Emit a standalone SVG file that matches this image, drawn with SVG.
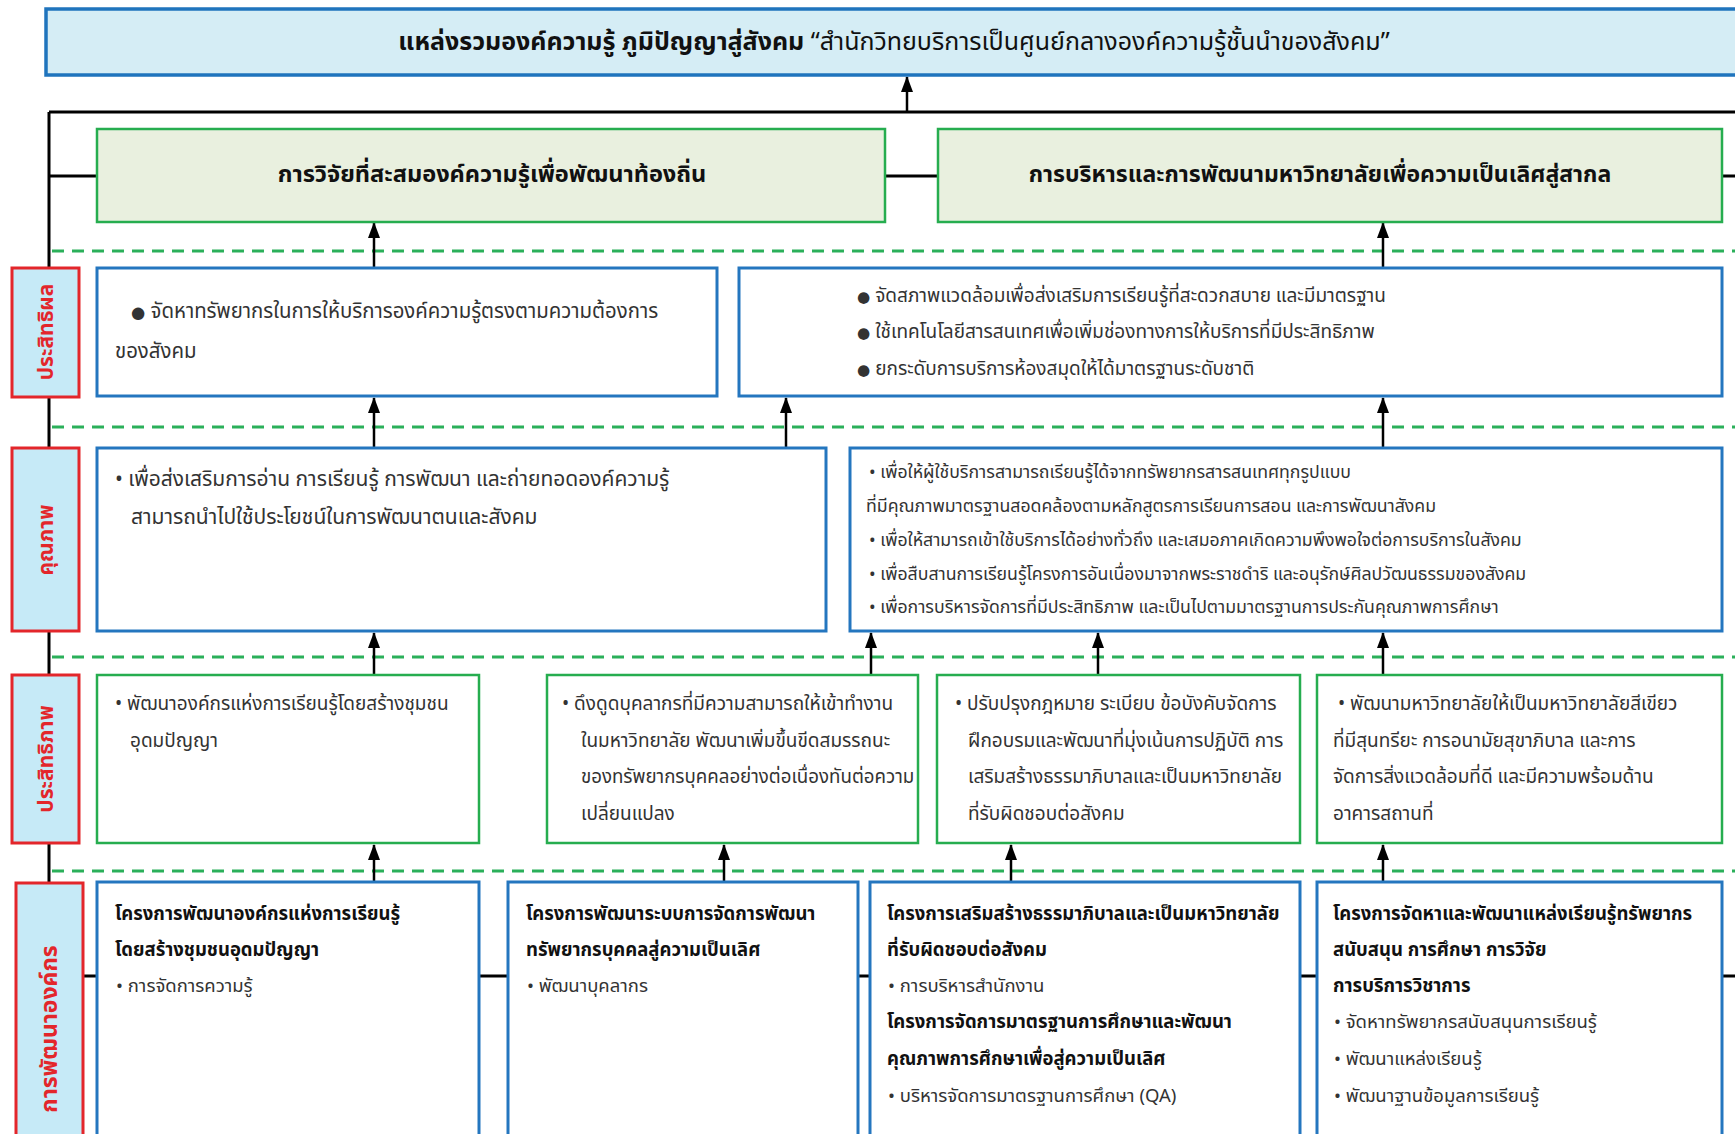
<svg xmlns="http://www.w3.org/2000/svg" width="1735" height="1134" viewBox="0 0 1735 1134">
<defs>
<marker id="ah" viewBox="0 0 16 12" refX="15" refY="6" markerWidth="16" markerHeight="12" markerUnits="userSpaceOnUse" orient="auto">
<path d="M0,0 L16,6 L0,12 Z" fill="#000"/>
</marker>
<style>
text{font-family:"Noto Sans Thai","Noto Sans","DejaVu Sans",sans-serif;}
.top{fill:#d5edf5;stroke:#1f74bd;stroke-width:3.5;}
.gbox{fill:#e9f0df;stroke:#26ad4f;stroke-width:2.5;}
.bbox{fill:#fff;stroke:#2476bf;stroke-width:3;}
.grbox{fill:#fff;stroke:#26ad4f;stroke-width:2.5;}
.lab{fill:#c6eaf7;stroke:#e3262b;stroke-width:3;}
.labt{fill:#e3262b;font-weight:bold;font-size:21px;text-anchor:middle;dominant-baseline:central;}
.h{fill:#111;font-weight:bold;font-size:23px;text-anchor:middle;dominant-baseline:central;}
.t{fill:#333;font-size:19px;}
.t1{fill:#333;font-size:20.4px;}
.t2{fill:#333;font-size:21px;}
.t3{fill:#333;font-size:17.7px;}
.b{fill:#111;font-weight:bold;font-size:18.5px;}
.t4{fill:#333;font-size:18.5px;}
.bul{font-size:0.8em;}
.blk{stroke:#000;stroke-width:3;fill:none;}
.arr{stroke:#000;stroke-width:2.5;fill:none;marker-end:url(#ah);}
.dash{stroke:#2bb05a;stroke-width:3;stroke-dasharray:12 8;fill:none;}
</style>
</defs>
<rect width="1735" height="1134" fill="#fff"/>

<g id="connectors">
<path class="blk" d="M49,112 H1735 M49,112 V1134 M49,176 H97 M885,176 H938 M1722,176 H1735 M83,976 H97 M479,976 H508 M858,976 H870 M1300,976 H1317 M1722,976 H1735"/>
<path class="dash" d="M52,251 H1735 M52,427 H1735 M52,657 H1735 M52,871 H1735"/>
<line class="arr" x1="907" y1="112" x2="907" y2="77"/>
<line class="arr" x1="374" y1="268" x2="374" y2="223"/>
<line class="arr" x1="1383" y1="268" x2="1383" y2="223"/>
<line class="arr" x1="374" y1="448" x2="374" y2="398"/>
<line class="arr" x1="786" y1="448" x2="786" y2="398"/>
<line class="arr" x1="1383" y1="448" x2="1383" y2="398"/>
<line class="arr" x1="374" y1="675" x2="374" y2="633"/>
<line class="arr" x1="871" y1="675" x2="871" y2="633"/>
<line class="arr" x1="1098" y1="675" x2="1098" y2="633"/>
<line class="arr" x1="1383" y1="675" x2="1383" y2="633"/>
<line class="arr" x1="374" y1="882" x2="374" y2="845"/>
<line class="arr" x1="724" y1="882" x2="724" y2="845"/>
<line class="arr" x1="1011" y1="882" x2="1011" y2="845"/>
<line class="arr" x1="1383" y1="882" x2="1383" y2="845"/>
</g>

<g id="vision">
<rect class="top" x="46" y="9" width="1700" height="66"/>
<text x="894" y="42" font-size="25" fill="#111" text-anchor="middle" dominant-baseline="central"><tspan font-weight="bold">แหล่งรวมองค์ความรู้ ภูมิปัญญาสู่สังคม</tspan> “สำนักวิทยบริการเป็นศูนย์กลางองค์ความรู้ชั้นนำของสังคม”</text>
</g>

<g id="goal1">
<rect class="gbox" x="97" y="129" width="788" height="93"/>
<text class="h" x="492" y="175" style="font-size:23.6px">การวิจัยที่สะสมองค์ความรู้เพื่อพัฒนาท้องถิ่น</text>
</g>
<g id="goal2">
<rect class="gbox" x="938" y="129" width="784" height="93"/>
<text class="h" x="1320" y="175">การบริหารและการพัฒนามหาวิทยาลัยเพื่อความเป็นเลิศสู่สากล</text>
</g>

<g id="label-effect">
<rect class="lab" x="12" y="268" width="67" height="129"/>
<text class="labt" transform="translate(46,332) rotate(-90)">ประสิทธิผล</text>
</g>
<g id="label-quality">
<rect class="lab" x="12" y="448" width="67" height="183"/>
<text class="labt" transform="translate(46,540) rotate(-90)">คุณภาพ</text>
</g>
<g id="label-efficiency">
<rect class="lab" x="12" y="675" width="67" height="168"/>
<text class="labt" transform="translate(46,759) rotate(-90)">ประสิทธิภาพ</text>
</g>
<g id="label-org">
<rect class="lab" x="16" y="883" width="67" height="260"/>
<text class="labt" transform="translate(50,1029) rotate(-90)" style="font-size:23px">การพัฒนาองค์กร</text>
</g>

<g id="eff1">
<rect class="bbox" x="97" y="268" width="620" height="128"/>
<text class="t1" x="131" y="318"><tspan class="bul">●</tspan> จัดหาทรัพยากรในการให้บริการองค์ความรู้ตรงตามความต้องการ</text>
<text class="t1" x="115" y="358">ของสังคม</text>
</g>
<g id="eff2">
<rect class="bbox" x="739" y="268" width="983" height="128"/>
<text class="t" x="857" y="302"><tspan class="bul">●</tspan> จัดสภาพแวดล้อมเพื่อส่งเสริมการเรียนรู้ที่สะดวกสบาย และมีมาตรฐาน</text>
<text class="t" x="857" y="338"><tspan class="bul">●</tspan> ใช้เทคโนโลยีสารสนเทศเพื่อเพิ่มช่องทางการให้บริการที่มีประสิทธิภาพ</text>
<text class="t" x="857" y="375"><tspan class="bul">●</tspan> ยกระดับการบริการห้องสมุดให้ได้มาตรฐานระดับชาติ</text>
</g>

<g id="qual1">
<rect class="bbox" x="97" y="448" width="729" height="183"/>
<text class="t2" x="115" y="486">• เพื่อส่งเสริมการอ่าน การเรียนรู้ การพัฒนา และถ่ายทอดองค์ความรู้</text>
<text class="t2" x="131" y="524">สามารถนำไปใช้ประโยชน์ในการพัฒนาตนและสังคม</text>
</g>
<g id="qual2">
<rect class="bbox" x="850" y="448" width="872" height="183"/>
<text class="t3" x="869" y="478">• เพื่อให้ผู้ใช้บริการสามารถเรียนรู้ได้จากทรัพยากรสารสนเทศทุกรูปแบบ</text>
<text class="t3" x="866" y="512">ที่มีคุณภาพมาตรฐานสอดคล้องตามหลักสูตรการเรียนการสอน และการพัฒนาสังคม</text>
<text class="t3" x="869" y="546">• เพื่อให้สามารถเข้าใช้บริการได้อย่างทั่วถึง และเสมอภาคเกิดความพึงพอใจต่อการบริการในสังคม</text>
<text class="t3" x="869" y="580">• เพื่อสืบสานการเรียนรู้โครงการอันเนื่องมาจากพระราชดำริ และอนุรักษ์ศิลปวัฒนธรรมของสังคม</text>
<text class="t3" x="869" y="613">• เพื่อการบริหารจัดการที่มีประสิทธิภาพ และเป็นไปตามมาตรฐานการประกันคุณภาพการศึกษา</text>
</g>

<g id="effi1">
<rect class="grbox" x="97" y="675" width="382" height="168"/>
<text class="t" x="115" y="710">• พัฒนาองค์กรแห่งการเรียนรู้โดยสร้างชุมชน</text>
<text class="t" x="130" y="747">อุดมปัญญา</text>
</g>
<g id="effi2">
<rect class="grbox" x="547" y="675" width="371" height="168"/>
<text class="t" x="562" y="710">• ดึงดูดบุคลากรที่มีความสามารถให้เข้าทำงาน</text>
<text class="t" x="581" y="747">ในมหาวิทยาลัย พัฒนาเพิ่มขึ้นขีดสมรรถนะ</text>
<text class="t" x="581" y="783" style="font-size:18.7px">ของทรัพยากรบุคคลอย่างต่อเนื่องทันต่อความ</text>
<text class="t" x="581" y="820">เปลี่ยนแปลง</text>
</g>
<g id="effi3">
<rect class="grbox" x="937" y="675" width="363" height="168"/>
<text class="t" x="955" y="710">• ปรับปรุงกฎหมาย ระเบียบ ข้อบังคับจัดการ</text>
<text class="t" x="968" y="747">ฝึกอบรมและพัฒนาที่มุ่งเน้นการปฏิบัติ การ</text>
<text class="t" x="968" y="783">เสริมสร้างธรรมาภิบาลและเป็นมหาวิทยาลัย</text>
<text class="t" x="968" y="820">ที่รับผิดชอบต่อสังคม</text>
</g>
<g id="effi4">
<rect class="grbox" x="1317" y="675" width="405" height="168"/>
<text class="t" x="1338" y="710">• พัฒนามหาวิทยาลัยให้เป็นมหาวิทยาลัยสีเขียว</text>
<text class="t" x="1333" y="747">ที่มีสุนทรียะ การอนามัยสุขาภิบาล และการ</text>
<text class="t" x="1333" y="783">จัดการสิ่งแวดล้อมที่ดี และมีความพร้อมด้าน</text>
<text class="t" x="1333" y="820">อาคารสถานที่</text>
</g>

<g id="proj1">
<rect class="bbox" x="97" y="882" width="382" height="262"/>
<text class="b" x="115" y="920">โครงการพัฒนาองค์กรแห่งการเรียนรู้</text>
<text class="b" x="115" y="956">โดยสร้างชุมชนอุดมปัญญา</text>
<text class="t4" x="116" y="992">• การจัดการความรู้</text>
</g>
<g id="proj2">
<rect class="bbox" x="508" y="882" width="350" height="262"/>
<text class="b" x="526" y="920">โครงการพัฒนาระบบการจัดการพัฒนา</text>
<text class="b" x="526" y="956">ทรัพยากรบุคคลสู่ความเป็นเลิศ</text>
<text class="t4" x="527" y="992">• พัฒนาบุคลากร</text>
</g>
<g id="proj3">
<rect class="bbox" x="870" y="882" width="430" height="262"/>
<text class="b" x="887" y="920">โครงการเสริมสร้างธรรมาภิบาลและเป็นมหาวิทยาลัย</text>
<text class="b" x="887" y="956">ที่รับผิดชอบต่อสังคม</text>
<text class="t4" x="888" y="992">• การบริหารสำนักงาน</text>
<text class="b" x="887" y="1028">โครงการจัดการมาตรฐานการศึกษาและพัฒนา</text>
<text class="b" x="887" y="1065">คุณภาพการศึกษาเพื่อสู่ความเป็นเลิศ</text>
<text class="t4" x="888" y="1102">• บริหารจัดการมาตรฐานการศึกษา (QA)</text>
</g>
<g id="proj4">
<rect class="bbox" x="1317" y="882" width="405" height="262"/>
<text class="b" x="1333" y="920">โครงการจัดหาและพัฒนาแหล่งเรียนรู้ทรัพยากร</text>
<text class="b" x="1333" y="956">สนับสนุน การศึกษา การวิจัย</text>
<text class="b" x="1333" y="992">การบริการวิชาการ</text>
<text class="t4" x="1334" y="1028">• จัดหาทรัพยากรสนับสนุนการเรียนรู้</text>
<text class="t4" x="1334" y="1065">• พัฒนาแหล่งเรียนรู้</text>
<text class="t4" x="1334" y="1102">• พัฒนาฐานข้อมูลการเรียนรู้</text>
</g>
</svg>
